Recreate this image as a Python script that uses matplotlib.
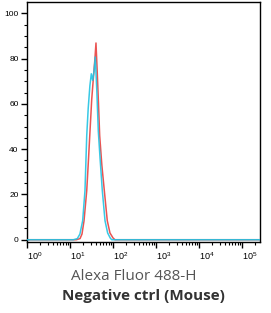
import numpy as np
import matplotlib
matplotlib.use("Agg")
import matplotlib.pyplot as plt
from matplotlib.ticker import LogLocator, FixedLocator, NullFormatter
import matplotlib.transforms as mtransforms

# Data (intensity, % of max)
cyan_x = [1, 12.0, 14.8, 17.0, 19.7, 22.3, 24.5, 26.5, 29.0, 31.3, 33.7, 36.5, 38.7, 42.0, 45.5, 50.0, 56.4, 65.2, 75.0, 86.0, 93.3, 110, 262144]
cyan_y = [0, 0, 0.5, 2.5, 8.4, 21.7, 46.0, 58.0, 68.0, 73.3, 70.4, 75.0, 80.7, 66.0, 48.0, 36.0, 21.7, 8.4, 3.0, 0.8, 0, 0, 0]
red_x = [1, 14.0, 17.1, 19.0, 21.2, 24.5, 27.0, 29.2, 32.0, 35.5, 38.0, 40.2, 43.0, 46.0, 49.0, 55.0, 62.8, 73.6, 85.0, 100.0, 111, 130, 262144]
red_y = [0, 0, 0.5, 2.5, 8.4, 21.7, 36.0, 48.0, 62.0, 73.0, 80.0, 86.9, 74.0, 60.0, 46.0, 33.0, 21.7, 8.4, 3.0, 0.8, 0, 0, 0]

x_major = [1e0, 1e1, 1e2, 1e3, 1e4, 1e5]
x_labels = [r"$10^{0}$", r"$10^{1}$", r"$10^{2}$", r"$10^{3}$", r"$10^{4}$", r"$10^{5}$"]
y_major = [0, 20, 40, 60, 80, 100]

plt.rcParams["mathtext.fontset"] = "custom"
plt.rcParams["mathtext.rm"] = "Liberation Sans"
plt.rcParams["mathtext.it"] = "Liberation Sans"

fig = plt.figure(figsize=(2.71, 3.13), dpi=100)
ax = fig.add_axes([27/271, 1-242/313, (260-27)/271, (242-2)/313])

ax.plot(red_x, red_y, color="#e8413f", lw=1.1, alpha=0.9, zorder=2)
ax.plot(cyan_x, cyan_y, color="#22c3e3", lw=1.1, alpha=0.9, zorder=3)

ax.set_xscale("log")
ax.set_xlim(1, 262144)
ax.set_ylim(-1, 105)

ax.xaxis.set_major_locator(FixedLocator(x_major))
ax.set_xticklabels(x_labels)
ax.xaxis.set_minor_locator(LogLocator(base=10, subs=np.arange(2, 10)))
ax.xaxis.set_minor_formatter(NullFormatter())
ax.set_yticks(y_major)
ax.set_yticks(np.arange(0, 105, 5), minor=True)

ax.tick_params(axis="both", which="major", direction="out", length=4, width=1, labelsize=6, colors="black", pad=2)
ax.tick_params(axis="both", which="minor", direction="out", length=2.2, width=0.8)
for lbl in ax.get_yticklabels():
    lbl.set_family("Liberation Sans")

offset = mtransforms.ScaledTranslation(8/100, 0, fig.dpi_scale_trans)
for lbl in ax.get_xticklabels():
    lbl.set_transform(lbl.get_transform() + offset)
    lbl.set_fontsize(6.5)

for s in ax.spines.values():
    s.set_linewidth(1)
    s.set_color("black")

fig.text(134/271, 1-276/313, "Alexa Fluor 488-H", ha="center", va="center",
         fontsize=11, color="#555555", family="Open Sans")
fig.text(143/271, 1-296/313, "Negative ctrl (Mouse)", ha="center", va="center",
         fontsize=11, fontweight="bold", color="#333333", family="Open Sans")

fig.savefig("out.png", dpi=100)
